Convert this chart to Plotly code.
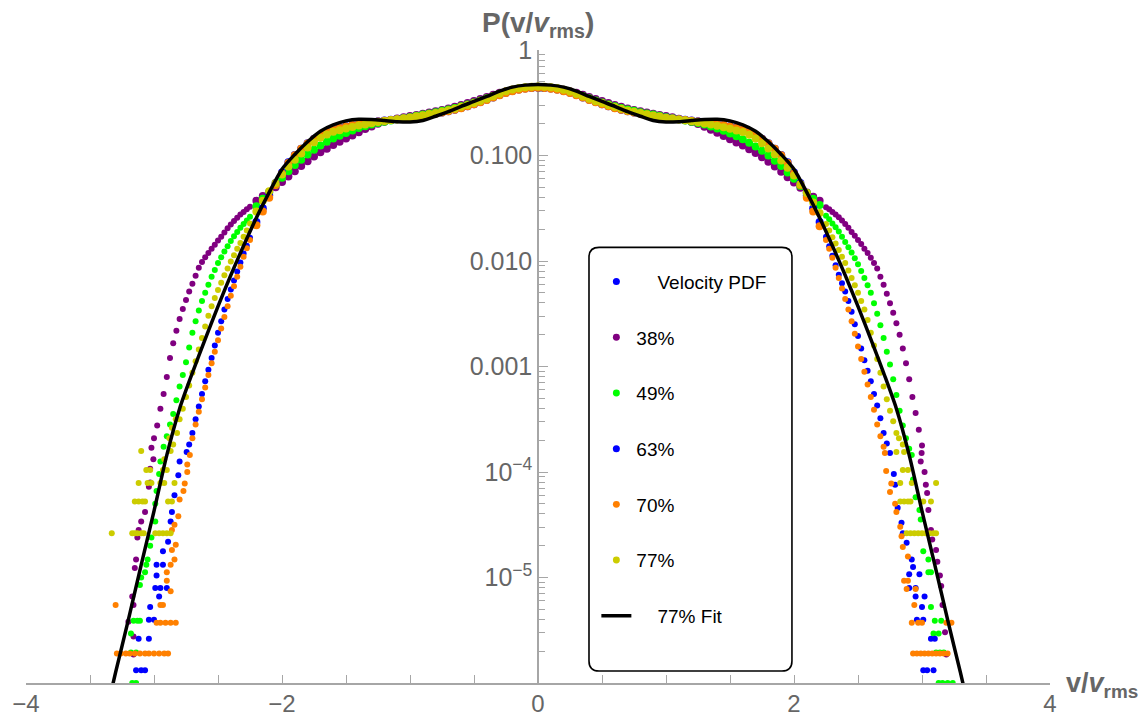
import plotly.graph_objects as go

NB = "\u00a0"

# ---------------- data (log10 of P) ----------------
v_core = [-2.20, -2.15, -2.10, -2.05, -2.00, -1.95, -1.90, -1.85, -1.80, -1.75,
          -1.70, -1.65, -1.60, -1.55, -1.50, -1.45, -1.40, -1.35, -1.30, -1.25,
          -1.20, -1.15, -1.10, -1.05, -1.00, -0.95, -0.90, -0.85, -0.80, -0.75,
          -0.70, -0.65, -0.60, -0.55, -0.50, -0.45, -0.40, -0.35, -0.30, -0.25,
          -0.20, -0.15, -0.10, -0.05, 0.00,
          0.05, 0.10, 0.15, 0.20, 0.25, 0.30, 0.35, 0.40, 0.45, 0.50,
          0.55, 0.60, 0.65, 0.70, 0.75, 0.80, 0.85, 0.90, 0.95, 1.00,
          1.05, 1.10, 1.15, 1.20, 1.25, 1.30, 1.35, 1.40, 1.45, 1.50,
          1.55, 1.60, 1.65, 1.70, 1.75, 1.80, 1.85, 1.90, 1.95, 2.00,
          2.05, 2.10, 2.15, 2.20]

lp38_core = [-1.43, -1.385, -1.345, -1.30, -1.25, -1.20, -1.15, -1.10, -1.055, -1.01,
             -0.97, -0.935, -0.90, -0.87, -0.84, -0.81, -0.78, -0.75, -0.724, -0.70,
             -0.68, -0.664, -0.65, -0.638, -0.626, -0.615, -0.604, -0.593, -0.581, -0.568,
             -0.554, -0.538, -0.521, -0.503, -0.484, -0.465, -0.445, -0.425, -0.406, -0.39,
             -0.377, -0.366, -0.358, -0.354, -0.352,
             -0.354, -0.358, -0.366, -0.377, -0.39, -0.406, -0.425, -0.445, -0.465, -0.484,
             -0.503, -0.521, -0.538, -0.554, -0.568, -0.581, -0.593, -0.604, -0.615, -0.626,
             -0.638, -0.651, -0.665, -0.682, -0.702, -0.727, -0.755, -0.785, -0.815, -0.846,
             -0.876, -0.906, -0.94, -0.976, -1.016, -1.06, -1.105, -1.155, -1.205, -1.255,
             -1.305, -1.35, -1.39, -1.43]

lp49_core = [-1.48, -1.41, -1.35, -1.28, -1.21, -1.15, -1.09, -1.04, -0.99, -0.945,
             -0.905, -0.87, -0.84, -0.812, -0.786, -0.762, -0.74, -0.722, -0.705, -0.692,
             -0.68, -0.668, -0.656, -0.645, -0.634, -0.623, -0.612, -0.601, -0.589, -0.577,
             -0.564, -0.549, -0.533, -0.516, -0.497, -0.479, -0.458, -0.437, -0.415, -0.395,
             -0.379, -0.366, -0.357, -0.352, -0.350,
             -0.352, -0.357, -0.366, -0.379, -0.395, -0.415, -0.437, -0.458, -0.479, -0.497,
             -0.516, -0.533, -0.549, -0.564, -0.577, -0.589, -0.601, -0.612, -0.623, -0.634,
             -0.645, -0.656, -0.668, -0.68, -0.692, -0.706, -0.724, -0.743, -0.766, -0.791,
             -0.818, -0.847, -0.878, -0.914, -0.955, -1.0, -1.05, -1.10, -1.16, -1.22,
             -1.29, -1.355, -1.41, -1.47]

lp63_core = [-1.63, -1.50, -1.38, -1.26, -1.16, -1.065, -0.995, -0.935, -0.885, -0.842,
             -0.806, -0.778, -0.756, -0.738, -0.723, -0.711, -0.701, -0.692, -0.684, -0.676,
             -0.669, -0.662, -0.655, -0.648, -0.64, -0.632, -0.623, -0.613, -0.603, -0.592,
             -0.58, -0.566, -0.55, -0.533, -0.514, -0.494, -0.472, -0.45, -0.427, -0.406,
             -0.389, -0.375, -0.366, -0.36, -0.358,
             -0.36, -0.366, -0.375, -0.389, -0.406, -0.427, -0.45, -0.472, -0.494, -0.514,
             -0.533, -0.55, -0.566, -0.58, -0.592, -0.603, -0.613, -0.623, -0.632, -0.64,
             -0.648, -0.655, -0.662, -0.669, -0.676, -0.684, -0.692, -0.701, -0.711, -0.723,
             -0.738, -0.756, -0.778, -0.806, -0.842, -0.885, -0.935, -0.995, -1.065, -1.16,
             -1.26, -1.38, -1.50, -1.63]

lp70_core = [-1.66, -1.53, -1.40, -1.28, -1.17, -1.07, -0.998, -0.937, -0.886, -0.843,
             -0.807, -0.779, -0.757, -0.739, -0.724, -0.712, -0.702, -0.693, -0.685, -0.677,
             -0.67, -0.663, -0.656, -0.649, -0.641, -0.633, -0.624, -0.614, -0.604, -0.593,
             -0.581, -0.567, -0.551, -0.534, -0.515, -0.495, -0.473, -0.451, -0.428, -0.407,
             -0.39, -0.376, -0.367, -0.361, -0.359,
             -0.361, -0.367, -0.376, -0.39, -0.407, -0.428, -0.451, -0.473, -0.495, -0.515,
             -0.534, -0.551, -0.567, -0.581, -0.593, -0.604, -0.614, -0.624, -0.633, -0.641,
             -0.649, -0.656, -0.663, -0.67, -0.677, -0.685, -0.693, -0.702, -0.712, -0.724,
             -0.739, -0.757, -0.779, -0.807, -0.843, -0.886, -0.937, -0.998, -1.07, -1.17,
             -1.28, -1.40, -1.53, -1.67]

lp77_core = [-1.53, -1.43, -1.34, -1.26, -1.18, -1.105, -1.04, -0.98, -0.925, -0.875,
             -0.832, -0.80, -0.776, -0.76, -0.745, -0.73, -0.716, -0.705, -0.694, -0.683,
             -0.673, -0.664, -0.656, -0.647, -0.639, -0.629, -0.619, -0.607, -0.596, -0.584,
             -0.572, -0.556, -0.539, -0.521, -0.502, -0.483, -0.461, -0.439, -0.415, -0.392,
             -0.375, -0.362, -0.353, -0.348, -0.346,
             -0.348, -0.353, -0.363, -0.376, -0.393, -0.416, -0.441, -0.463, -0.485, -0.503,
             -0.523, -0.541, -0.558, -0.574, -0.586, -0.598, -0.609, -0.621, -0.631, -0.641,
             -0.649, -0.658, -0.666, -0.675, -0.685, -0.696, -0.707, -0.718, -0.732, -0.747,
             -0.763, -0.778, -0.803, -0.838, -0.883, -0.933, -0.988, -1.048, -1.115, -1.19,
             -1.27, -1.355, -1.445, -1.545]

# tails: (v/vrms, log10 P)
tail38 = [(-2.25, -1.485), (-2.275, -1.51), (-2.30, -1.535), (-2.325, -1.56), (-2.35, -1.59),
          (-2.375, -1.62), (-2.40, -1.655), (-2.425, -1.69), (-2.45, -1.73), (-2.475, -1.77),
          (-2.50, -1.805), (-2.525, -1.845), (-2.55, -1.885), (-2.575, -1.925), (-2.60, -1.965),
          (-2.625, -2.01), (-2.65, -2.065),
          (-2.675, -2.14), (-2.70, -2.215), (-2.725, -2.29), (-2.75, -2.37), (-2.775, -2.455),
          (-2.80, -2.55), (-2.825, -2.66), (-2.85, -2.78), (-2.875, -2.92), (-2.90, -3.10),
          (-2.925, -3.26), (-2.95, -3.40), (-2.975, -3.56), (-3.00, -3.68), (-3.02, -3.77),
          (-3.005, -3.88), (-3.03, -3.97), (-3.03, -4.10), (-3.04, -4.14), (-3.07, -4.38),
          (-3.10, -4.47), (-3.12, -4.55), (-3.13, -4.62), (-3.14, -4.83), (-3.15, -4.91),
          (-3.17, -5.18), (-3.16, -5.26), (-3.20, -5.42), (-3.16, -5.56), (-3.16, -5.73),
          (2.25, -1.49), (2.275, -1.51), (2.30, -1.535), (2.325, -1.56), (2.35, -1.585),
          (2.375, -1.615), (2.40, -1.65), (2.425, -1.685), (2.45, -1.725), (2.475, -1.76),
          (2.50, -1.80), (2.525, -1.84), (2.55, -1.885), (2.575, -1.925), (2.60, -1.97),
          (2.625, -2.02), (2.65, -2.07),
          (2.675, -2.15), (2.70, -2.225), (2.725, -2.31), (2.75, -2.40), (2.775, -2.49),
          (2.80, -2.59), (2.825, -2.70), (2.85, -2.83), (2.875, -2.97), (2.90, -3.12),
          (2.925, -3.29), (2.95, -3.44), (2.975, -3.60), (3.00, -3.75),
          (2.997, -3.82), (2.99, -3.90), (3.02, -4.00), (3.03, -4.12), (3.04, -4.20),
          (3.05, -4.36), (3.07, -4.55), (3.08, -4.64), (3.11, -4.74), (3.12, -4.85),
          (3.14, -4.98), (3.15, -5.08), (3.16, -5.26), (3.18, -5.52), (3.19, -5.73)]

tail49 = [(-2.25, -1.58), (-2.275, -1.615), (-2.30, -1.65), (-2.325, -1.685), (-2.35, -1.725),
          (-2.375, -1.765), (-2.40, -1.81), (-2.425, -1.86), (-2.45, -1.91), (-2.475, -1.965),
          (-2.50, -2.02), (-2.525, -2.085), (-2.55, -2.15), (-2.575, -2.225), (-2.60, -2.30),
          (-2.625, -2.38), (-2.65, -2.47),
          (-2.675, -2.57), (-2.70, -2.68), (-2.725, -2.82), (-2.75, -2.96), (-2.775, -3.08),
          (-2.80, -3.19), (-2.825, -3.32), (-2.85, -3.45), (-2.875, -3.55), (-2.90, -3.66),
          (-2.925, -3.76),
          (-2.95, -3.90), (-2.96, -4.02), (-2.98, -4.18), (-2.99, -4.30), (-2.99, -4.47),
          (-3.02, -4.62), (-3.03, -4.70), (-3.05, -4.83), (-3.06, -4.88), (-3.07, -4.95),
          (-3.10, -5.00), (-3.11, -5.07), (-3.16, -5.41), (-3.13, -5.41), (-3.11, -5.41),
          (-3.18, -5.53), (-3.18, -5.71), (-3.14, -5.71), (-3.17, -6.0), (-3.14, -6.0),
          (2.25, -1.57), (2.275, -1.605), (2.30, -1.645), (2.325, -1.68), (2.35, -1.72),
          (2.375, -1.77), (2.40, -1.82), (2.425, -1.87), (2.45, -1.92), (2.475, -1.975),
          (2.50, -2.03), (2.525, -2.095), (2.55, -2.16), (2.575, -2.23), (2.60, -2.30),
          (2.625, -2.40), (2.65, -2.50),
          (2.675, -2.61), (2.70, -2.73), (2.725, -2.86), (2.75, -2.98), (2.775, -3.12),
          (2.80, -3.27), (2.825, -3.42), (2.85, -3.56), (2.875, -3.68), (2.90, -3.78),
          (2.92, -3.84), (2.93, -4.07), (2.95, -4.24), (2.98, -4.36), (2.99, -4.45),
          (3.01, -4.75), (3.05, -4.83), (3.05, -4.95), (3.07, -4.95), (3.07, -5.28),
          (3.10, -5.41), (3.15, -5.41), (3.09, -5.53), (3.13, -5.53), (3.11, -5.71),
          (3.14, -5.71), (3.17, -5.71), (3.13, -6.0), (3.16, -6.0), (3.20, -6.0), (3.24, -6.0)]

tail63 = [(-2.25, -1.78), (-2.275, -1.855), (-2.30, -1.93), (-2.325, -2.015), (-2.35, -2.10),
          (-2.375, -2.185), (-2.40, -2.27), (-2.425, -2.36),
          (-2.45, -2.46), (-2.475, -2.57), (-2.50, -2.68), (-2.525, -2.80), (-2.55, -2.92),
          (-2.575, -3.03), (-2.60, -3.14), (-2.625, -3.26), (-2.65, -3.38), (-2.675, -3.50),
          (-2.70, -3.63), (-2.725, -3.74),
          (-2.745, -3.81), (-2.80, -3.90), (-2.81, -4.03), (-2.84, -4.22), (-2.86, -4.38),
          (-2.87, -4.47), (-2.89, -4.66), (-2.93, -4.75), (-2.93, -4.88), (-2.98, -4.88),
          (-2.98, -4.98), (-2.99, -5.10), (-2.95, -5.10), (-2.90, -5.10), (-2.96, -5.18),
          (-3.03, -5.28), (-3.04, -5.40), (-3.00, -5.40), (-3.12, -5.58), (-3.04, -5.58),
          (-3.14, -5.88), (-3.10, -5.88), (-3.07, -5.88),
          (2.25, -1.77), (2.275, -1.86), (2.30, -1.95), (2.325, -2.04), (2.35, -2.13),
          (2.375, -2.21), (2.40, -2.29), (2.425, -2.38),
          (2.45, -2.48), (2.475, -2.60), (2.50, -2.71), (2.525, -2.83), (2.55, -2.94),
          (2.575, -3.04), (2.60, -3.14), (2.625, -3.26), (2.65, -3.37), (2.675, -3.49),
          (2.70, -3.63), (2.725, -3.73),
          (2.75, -3.82), (2.78, -4.02), (2.79, -4.12), (2.81, -4.34), (2.84, -4.48),
          (2.85, -4.58), (2.88, -4.67), (2.92, -4.83), (2.93, -4.90), (2.90, -4.97),
          (2.98, -4.97), (2.90, -5.10), (2.95, -5.10), (2.95, -5.18), (3.02, -5.18),
          (3.00, -5.28), (2.96, -5.40), (3.01, -5.40), (3.07, -5.58), (3.10, -5.58),
          (3.01, -5.88), (3.04, -5.88), (3.09, -5.88)]

tail70 = [(-2.25, -1.80), (-2.275, -1.88), (-2.30, -1.96), (-2.325, -2.055), (-2.35, -2.15),
          (-2.375, -2.24), (-2.40, -2.33), (-2.425, -2.43),
          (-2.45, -2.53), (-2.475, -2.64), (-2.50, -2.75), (-2.525, -2.86), (-2.55, -2.97),
          (-2.575, -3.08), (-2.60, -3.20), (-2.625, -3.31), (-2.65, -3.43), (-2.675, -3.55),
          (-2.70, -3.68),
          (-2.72, -3.84), (-2.74, -3.93), (-2.74, -4.00), (-2.76, -4.11), (-2.77, -4.18),
          (-2.80, -4.26), (-2.81, -4.42), (-2.84, -4.50), (-2.86, -4.55), (-2.83, -4.69),
          (-2.86, -4.74), (-2.84, -4.83), (-2.87, -4.88), (-2.90, -4.95), (-2.90, -5.03),
          (-2.87, -5.13), (-2.93, -5.26), (-2.95, -5.26), (-3.30, -5.26), (-2.98, -5.43),
          (-2.95, -5.43), (-2.91, -5.43), (-2.87, -5.43), (-2.83, -5.43), (-3.29, -5.72),
          (-3.26, -5.72), (-3.22, -5.72), (-3.19, -5.72), (-3.15, -5.72), (-3.11, -5.72),
          (-3.07, -5.72), (-3.04, -5.72), (-3.00, -5.72), (-2.96, -5.72), (-2.92, -5.72),
          (-2.89, -5.72),
          (2.25, -1.80), (2.275, -1.885), (2.30, -1.97), (2.325, -2.065), (2.35, -2.16),
          (2.375, -2.26), (2.40, -2.36), (2.425, -2.46),
          (2.45, -2.57), (2.475, -2.69), (2.50, -2.81), (2.525, -2.93), (2.55, -3.05),
          (2.575, -3.17), (2.60, -3.29), (2.625, -3.41), (2.65, -3.55), (2.675, -3.66),
          (2.70, -3.76),
          (2.71, -3.82), (2.72, -3.99), (2.76, -4.11), (2.75, -4.19), (2.79, -4.30),
          (2.80, -4.38), (2.83, -4.52), (2.84, -4.61), (2.85, -4.71), (2.89, -4.80),
          (2.86, -5.03), (2.89, -5.03), (2.88, -5.11), (2.95, -5.11), (2.94, -5.26),
          (2.92, -5.43), (2.97, -5.43), (3.00, -5.43), (3.19, -5.43), (3.23, -5.43),
          (2.93, -5.72), (2.96, -5.72), (2.99, -5.72), (3.02, -5.72), (3.05, -5.72),
          (3.08, -5.72), (3.11, -5.72), (3.14, -5.72), (3.17, -5.72), (3.20, -5.72)]

tail77 = [(-2.25, -1.645), (-2.275, -1.71), (-2.30, -1.77), (-2.325, -1.83), (-2.35, -1.885),
          (-2.375, -1.945), (-2.40, -2.005), (-2.425, -2.07), (-2.45, -2.135), (-2.475, -2.205),
          (-2.50, -2.275), (-2.525, -2.35), (-2.55, -2.43), (-2.575, -2.52), (-2.60, -2.62),
          (-2.625, -2.73), (-2.65, -2.84), (-2.675, -2.95), (-2.70, -3.06), (-2.725, -3.18),
          (-2.75, -3.29), (-2.775, -3.40), (-2.80, -3.50),
          (-2.83, -3.50), (-2.86, -3.58), (-2.82, -3.63), (-2.88, -3.68), (-2.85, -3.74),
          (-3.10, -3.80), (-2.87, -3.80), (-2.92, -3.88), (-3.06, -3.98), (-3.03, -3.98),
          (-2.93, -3.98), (-2.90, -3.98), (-3.12, -4.105), (-3.05, -4.105), (-3.02, -4.105),
          (-2.95, -4.105), (-2.92, -4.105), (-2.84, -4.105), (-3.15, -4.28), (-3.12, -4.28),
          (-3.09, -4.28), (-3.07, -4.28), (-2.89, -4.28), (-2.86, -4.28), (-3.33, -4.58),
          (-3.17, -4.58), (-3.15, -4.58), (-3.13, -4.58), (-3.10, -4.58), (-3.08, -4.58),
          (-2.99, -4.58), (-2.96, -4.58), (-2.93, -4.58), (-2.90, -4.58), (-2.87, -4.58),
          (2.25, -1.65), (2.275, -1.71), (2.30, -1.775), (2.325, -1.835), (2.35, -1.895),
          (2.375, -1.96), (2.40, -2.02), (2.425, -2.09), (2.45, -2.16), (2.475, -2.23),
          (2.50, -2.30), (2.525, -2.38), (2.55, -2.46), (2.575, -2.56), (2.60, -2.68),
          (2.625, -2.80), (2.65, -2.93), (2.675, -3.06), (2.70, -3.19), (2.725, -3.31),
          (2.75, -3.42), (2.775, -3.52), (2.80, -3.63),
          (2.82, -3.68), (2.85, -3.74), (2.86, -3.81), (2.80, -3.81), (2.85, -3.98),
          (2.89, -3.98), (2.83, -4.105), (2.92, -4.105), (3.11, -4.105), (2.83, -4.28),
          (2.86, -4.28), (2.89, -4.28), (2.91, -4.28), (3.01, -4.28), (3.07, -4.28),
          (2.88, -4.58), (2.91, -4.58), (2.94, -4.58), (2.97, -4.58), (3.00, -4.58),
          (3.03, -4.58), (3.06, -4.58), (3.09, -4.58), (3.11, -4.58)]

# 77% fit curve, sampled
v_fit = [-3.4, -3.3, -3.2, -3.1, -3.0, -2.9, -2.8, -2.7, -2.6, -2.5,
         -2.4, -2.3, -2.2, -2.1, -2.0, -1.9, -1.8, -1.7, -1.6, -1.5,
         -1.4, -1.3, -1.2, -1.1, -1.0, -0.9, -0.8, -0.7, -0.6, -0.5,
         -0.4, -0.3, -0.2, -0.1, 0.0, 0.1, 0.2, 0.3, 0.4,
         0.5, 0.6, 0.7, 0.8, 0.9, 1.0, 1.1, 1.2, 1.3, 1.4,
         1.5, 1.6, 1.7, 1.8, 1.9, 2.0, 2.1, 2.2, 2.3, 2.4,
         2.5, 2.6, 2.7, 2.8, 2.9, 3.0, 3.1, 3.2, 3.3, 3.4]
lp_fit = [-6.42, -5.90, -5.40, -4.88, -4.37, -3.84, -3.40, -3.06, -2.74, -2.43,
          -2.135, -1.855, -1.59, -1.35, -1.13, -0.99, -0.87, -0.77, -0.71, -0.672,
          -0.656, -0.659, -0.669, -0.68, -0.683, -0.668, -0.628, -0.584, -0.534, -0.488,
          -0.44, -0.39, -0.352, -0.333, -0.327, -0.333, -0.352, -0.39, -0.44,
          -0.488, -0.534, -0.584, -0.628, -0.668, -0.683, -0.68, -0.669, -0.659, -0.656,
          -0.672, -0.71, -0.77, -0.87, -0.99, -1.13, -1.35, -1.59, -1.855, -2.135,
          -2.43, -2.74, -3.06, -3.40, -3.84, -4.37, -4.88, -5.40, -5.90, -6.42]

x_tickvals = [-4, -2, 0, 2, 4]
x_ticktext = ["\u22124", "\u22122", "0", "2", "4"]
x_minor = [-3.5, -3, -2.5, -1.5, -1, -0.5, 0.5, 1, 1.5, 2.5, 3, 3.5]
y_tickvals = [1, 0.1, 0.01, 0.001, 1e-4, 1e-5]
y_ticktext = ["1", "0.100", "0.010", "0.001", "10<sup>\u22124</sup>", "10<sup>\u22125</sup>"]
y_minor = [k * 10.0 ** e for e in range(-6, 0) for k in range(2, 10)]

series = [
    ("38%", "#800080", lp38_core, tail38),
    ("49%", "#00ff00", lp49_core, tail49),
    ("63%", "#0000ff", lp63_core, tail63),
    ("70%", "#ff8000", lp70_core, tail70),
    ("77%", "#cccc00", lp77_core, tail77),
]

# ---------------- figure ----------------
fig = go.Figure()
fig.add_trace(go.Scatter(x=[None], y=[None], mode="markers", name=NB * 4 + "Velocity PDF",
                         marker=dict(color="#0000ff", size=7, opacity=1), legendgroup="g0",
                         hoverinfo="skip"))
for i, (name, color, core, tail) in enumerate(series):
    assert len(core) == len(v_core)
    xs = list(v_core) + [t[0] for t in tail]
    ys = [10 ** v for v in core] + [10 ** t[1] for t in tail]
    sizes = [8] * len(core) + [6] * len(tail)
    fig.add_trace(go.Scatter(x=xs, y=ys, mode="markers", name=name,
                             marker=dict(color=color, size=sizes, opacity=1,
                                         line=dict(width=0)),
                             legendgroup=f"g{i+1}", cliponaxis=True))
fig.add_trace(go.Scatter(x=v_fit, y=[10 ** v for v in lp_fit], mode="lines",
                         name=NB * 4 + "77% Fit",
                         line=dict(color="black", width=3.5, shape="spline", smoothing=0.8),
                         legendgroup="g9"))

axis_grey = "#a6a6a6"
label_grey = "#666666"
FONT = "Liberation Sans, Arial, Helvetica, sans-serif"

fig.update_layout(
    width=1148, height=717, autosize=False,
    template="none",
    paper_bgcolor="white", plot_bgcolor="white",
    margin=dict(l=26, r=98, t=50, b=34, pad=0),
    font=dict(family=FONT, color=label_grey),
    showlegend=True,
    legend=dict(x=0.557, y=0.664, xanchor="left", yanchor="top",
                bgcolor="rgba(0,0,0,0)", borderwidth=0,
                font=dict(size=19, color="black", family=FONT),
                tracegroupgap=28, itemwidth=30, itemsizing="trace"),
    xaxis=dict(range=[-4, 4], showgrid=False, zeroline=False, showline=True,
               linecolor=axis_grey, linewidth=1.5, ticks="inside", ticklen=8,
               tickcolor=axis_grey, tickwidth=1.2, tickmode="array",
               tickvals=x_tickvals, ticktext=x_ticktext,
               tickfont=dict(size=24, color=label_grey), ticklabelstandoff=-2,
               minor=dict(tickmode="array", tickvals=x_minor, ticks="inside", ticklen=8,
                          tickcolor=axis_grey, tickwidth=1.2, showgrid=False),
               layer="below traces", anchor="y", automargin=False),
    yaxis=dict(type="log", range=[-6, 0], anchor="free", position=0.5, side="left",
               showgrid=False, zeroline=False, showline=True, linecolor=axis_grey,
               linewidth=1.5, ticks="inside", ticklen=9, tickcolor=axis_grey, tickwidth=1.2,
               tickmode="array", tickvals=y_tickvals, ticktext=y_ticktext,
               tickfont=dict(size=25, color=label_grey),
               minor=dict(tickmode="array", tickvals=y_minor, ticks="inside", ticklen=6,
                          tickcolor=axis_grey, tickwidth=1.0, showgrid=False),
               layer="below traces", automargin=False),
)

# axis titles
fig.add_annotation(text="<b>P(v/<i>v</i><sub>rms</sub>)</b>", xref="paper", yref="paper",
                   x=0.5, y=1, xanchor="center", yanchor="bottom", yshift=6,
                   showarrow=False, font=dict(size=28, color=label_grey, family=FONT))
fig.add_annotation(text="<b>v/<i>v</i><sub>rms</sub></b>", xref="paper", yref="paper",
                   x=1, y=0, xanchor="left", yanchor="middle", xshift=14, yshift=-2,
                   showarrow=False, font=dict(size=27, color=label_grey, family=FONT))

# rounded legend frame (paper coords)
x0, x1, y0, y1 = 0.5498, 0.7480, 0.0189, 0.6882
rx, ry = 0.0098, 0.0158
path = (f"M {x0+rx},{y0} L {x1-rx},{y0} Q {x1},{y0} {x1},{y0+ry} "
        f"L {x1},{y1-ry} Q {x1},{y1} {x1-rx},{y1} L {x0+rx},{y1} "
        f"Q {x0},{y1} {x0},{y1-ry} L {x0},{y0+ry} Q {x0},{y0} {x0+rx},{y0} Z")
fig.add_shape(type="path", path=path, xref="paper", yref="paper",
              line=dict(color="black", width=1.6), fillcolor="white", layer="below")

fig.write_html("out.html", post_script="document.body.style.margin='0px';")
